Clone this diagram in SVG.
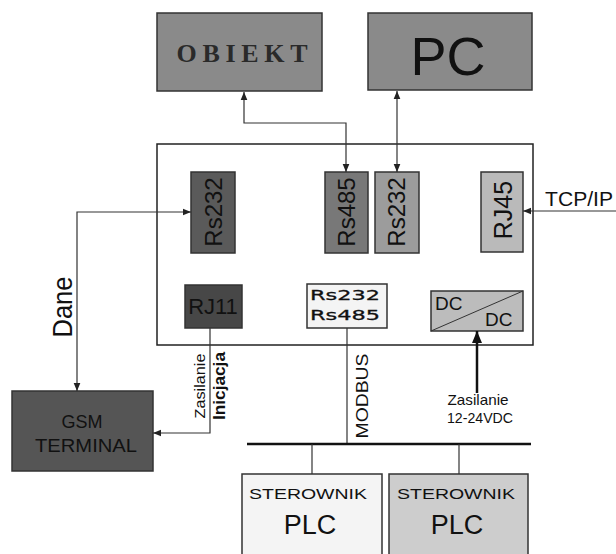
<svg xmlns="http://www.w3.org/2000/svg" width="616" height="554" viewBox="0 0 616 554">
<style>
.box{stroke:#333;stroke-width:1.5}
.t{font-family:"Liberation Sans",Arial,sans-serif;fill:#111}
.ln{fill:none;stroke:#333;stroke-width:1.2}
</style>
<defs>
<marker id="a" markerUnits="userSpaceOnUse" markerWidth="8" markerHeight="8" refX="6" refY="3" orient="auto-start-reverse" viewBox="0 0 6 6">
<path d="M0,0.5 L6,3 L0,5.5 Z" fill="#222"/>
</marker>
<marker id="b" markerUnits="userSpaceOnUse" markerWidth="12" markerHeight="12" refX="12" refY="6" orient="auto" viewBox="0 0 12 12">
<path d="M0,1 L12,6 L0,11 Z" fill="#111"/>
</marker>
</defs>
<rect width="616" height="554" fill="#fff"/>

<g id="obiekt">
<rect class="box" x="157" y="13" width="165" height="78" fill="#8a8a8a"/>
<text x="242" y="62" text-anchor="middle" font-family="'Liberation Serif',serif" font-weight="bold" font-size="26" fill="#2a2a2a" textLength="131" lengthAdjust="spacing">OBIEKT</text>
</g>
<g id="pc">
<rect class="box" x="368" y="13" width="164" height="77" fill="#8a8a8a"/>
<text class="t" x="448" y="75" text-anchor="middle" font-size="54" fill="#000">PC</text>
</g>

<g id="modul">
<rect x="157" y="144" width="376" height="201" fill="#fff" stroke="#222" stroke-width="1.5"/>
</g>

<g id="rs232a">
<rect class="box" x="191" y="172" width="44" height="81" fill="#5a5a5a"/>
<text class="t" transform="translate(222,212) rotate(-90)" text-anchor="middle" font-size="24">Rs232</text>
</g>
<g id="rs485">
<rect class="box" x="325" y="172" width="43" height="81" fill="#787878"/>
<text class="t" transform="translate(355,212) rotate(-90)" text-anchor="middle" font-size="24">Rs485</text>
</g>
<g id="rs232b">
<rect class="box" x="375" y="172" width="44" height="81" fill="#9c9c9c"/>
<text class="t" transform="translate(405,212) rotate(-90)" text-anchor="middle" font-size="24">Rs232</text>
</g>
<g id="rj45">
<rect class="box" x="481" y="172" width="42" height="80" fill="#bababa"/>
<text class="t" transform="translate(512,210) rotate(-90)" text-anchor="middle" font-size="25">RJ45</text>
</g>
<g id="rj11">
<rect class="box" x="185" y="285" width="57" height="43" fill="#474747"/>
<text class="t" x="213" y="314" text-anchor="middle" font-size="22">RJ11</text>
</g>
<g id="rs232rs485">
<rect class="box" x="307" y="284" width="80" height="44" fill="#f4f4f4"/>
<text x="345" y="300" text-anchor="middle" font-family="'DejaVu Sans',sans-serif" font-size="14" fill="#111" stroke="#111" stroke-width="0.3" textLength="70" lengthAdjust="spacingAndGlyphs">Rs232</text>
<text x="345" y="320" text-anchor="middle" font-family="'DejaVu Sans',sans-serif" font-size="14" fill="#111" stroke="#111" stroke-width="0.3" textLength="70" lengthAdjust="spacingAndGlyphs">Rs485</text>
</g>
<g id="dcdc">
<rect class="box" x="431" y="291" width="92" height="40" fill="#bcbcbc"/>
<line x1="431" y1="331" x2="523" y2="291" stroke="#333" stroke-width="1"/>
<text class="t" x="435" y="310" font-size="19">DC</text>
<text class="t" x="485" y="326" font-size="19">DC</text>
</g>

<g id="gsm">
<rect class="box" x="12" y="391" width="141" height="80" fill="#555555"/>
<text class="t" x="82" y="428" text-anchor="middle" font-size="18">GSM</text>
<text class="t" x="86" y="452" text-anchor="middle" font-size="19" textLength="102" lengthAdjust="spacingAndGlyphs">TERMINAL</text>
</g>

<g id="plc1">
<rect class="box" x="242" y="474" width="140" height="90" fill="#f4f4f4"/>
<text class="t" x="308" y="499" text-anchor="middle" font-size="15" fill="#333" textLength="118" lengthAdjust="spacingAndGlyphs">STEROWNIK</text>
<text class="t" x="310" y="534" text-anchor="middle" font-size="27" fill="#000">PLC</text>
</g>
<g id="plc2">
<rect class="box" x="389" y="474" width="139" height="90" fill="#cdcdcd"/>
<text class="t" x="456" y="499" text-anchor="middle" font-size="15" fill="#333" textLength="118" lengthAdjust="spacingAndGlyphs">STEROWNIK</text>
<text class="t" x="457" y="534" text-anchor="middle" font-size="27" fill="#000">PLC</text>
</g>

<g id="connectors">
<path class="ln" d="M244,92 V123 H346 V172" marker-start="url(#a)" marker-end="url(#a)"/>
<path class="ln" d="M397,91 V172" marker-start="url(#a)" marker-end="url(#a)"/>
<path class="ln" d="M191,212 H77 V391" marker-start="url(#a)" marker-end="url(#a)"/>
<path class="ln" d="M210,328 V433 H153" marker-end="url(#a)"/>
<path class="ln" d="M616,211 H523" marker-end="url(#a)"/>
<path class="ln" d="M347,328 V444"/>
<path d="M247,444 H531" stroke="#111" stroke-width="2.5"/>
<path class="ln" d="M312,444 V474"/>
<path class="ln" d="M459,444 V474"/>
<path d="M477,393 V331" stroke="#111" stroke-width="2.5" marker-end="url(#b)"/>
</g>

<g id="labels">
<text class="t" x="545" y="206" font-size="20" textLength="68" lengthAdjust="spacingAndGlyphs">TCP/IP</text>
<text class="t" transform="translate(72,307) rotate(-90)" text-anchor="middle" font-size="27" textLength="61" lengthAdjust="spacingAndGlyphs">Dane</text>
<text class="t" transform="translate(205,386) rotate(-90)" text-anchor="middle" font-size="15" fill="#333" textLength="65" lengthAdjust="spacingAndGlyphs">Zasilanie</text>
<text class="t" transform="translate(225,386) rotate(-90)" text-anchor="middle" font-size="16" font-weight="bold" fill="#000" textLength="68" lengthAdjust="spacingAndGlyphs">Inicjacja</text>
<text class="t" transform="translate(368,396) rotate(-90)" text-anchor="middle" font-size="16" fill="#333" textLength="85" lengthAdjust="spacingAndGlyphs">MODBUS</text>
<text class="t" x="478" y="405" text-anchor="middle" font-size="14.5" fill="#333" textLength="61" lengthAdjust="spacingAndGlyphs">Zasilanie</text>
<text class="t" x="480" y="423" text-anchor="middle" font-size="14.5" fill="#333" textLength="66" lengthAdjust="spacingAndGlyphs">12-24VDC</text>
</g>
</svg>
